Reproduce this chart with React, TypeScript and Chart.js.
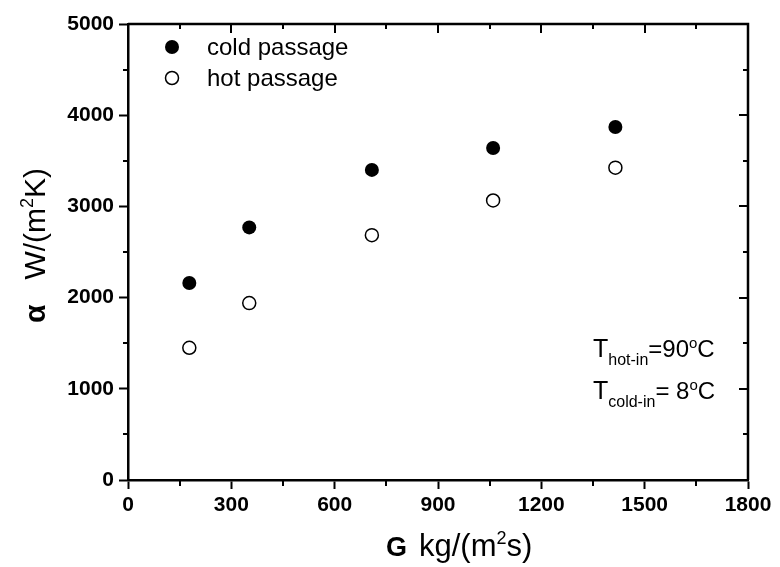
import React, { useEffect, useRef } from "react";
import { Chart, registerables } from "chart.js";

Chart.register(...registerables);

const xValues = [178, 352, 708, 1060, 1415];
const coldValues = [2160, 2770, 3400, 3640, 3870];
const hotValues = [1450, 1940, 2685, 3065, 3425];
const seriesLabels = ["cold passage", "hot passage"];
const xRange = [0, 1800];
const yRange = [0, 5000];
const xMajorStep = 300;
const yMajorStep = 1000;

const FF = '"Liberation Sans", Arial, sans-serif';

type Seg = { t: string; size: number; bold?: boolean; dy?: number; dx?: number };

function drawSegs(ctx: CanvasRenderingContext2D, segs: Seg[], x: number, y: number) {
  let cx = x;
  for (const s of segs) {
    ctx.font = `${s.bold ? "bold " : ""}${s.size}px ${FF}`;
    cx += s.dx || 0;
    ctx.fillText(s.t, cx, y + (s.dy || 0));
    cx += ctx.measureText(s.t).width;
  }
}

const decor = {
  id: "decor",
  afterDraw(chart: any) {
    const { ctx, chartArea } = chart;
    const { left, right, top, bottom } = chartArea;
    const xs = chart.scales.x;
    const ys = chart.scales.y;
    ctx.save();
    ctx.strokeStyle = "#000";
    ctx.fillStyle = "#000";
    ctx.lineWidth = 2.5;
    ctx.beginPath();
    ctx.moveTo(left, top);
    ctx.lineTo(right, top);
    ctx.lineTo(right, bottom);
    ctx.stroke();
    ctx.lineWidth = 2;
    ctx.beginPath();
    for (let v = xRange[0]; v <= xRange[1]; v += xMajorStep / 2) {
      const px = Math.round(xs.getPixelForValue(v));
      const major = v % xMajorStep === 0;
      ctx.moveTo(px, top);
      ctx.lineTo(px, top + (major ? 9 : 5));
      if (!major) {
        ctx.moveTo(px, bottom);
        ctx.lineTo(px, bottom + 6);
      }
    }
    for (let v = yRange[0]; v <= yRange[1]; v += yMajorStep / 2) {
      const py = Math.round(ys.getPixelForValue(v));
      const major = v % yMajorStep === 0;
      ctx.moveTo(right, py);
      ctx.lineTo(right - (major ? 9 : 5), py);
      if (!major) {
        ctx.moveTo(left, py);
        ctx.lineTo(left - 5, py);
      }
    }
    ctx.stroke();

    // legend
    const ds = chart.data.datasets;
    ds.forEach((d: any, i: number) => {
      const cy = 47 + i * 31;
      ctx.beginPath();
      ctx.arc(172, cy, i === 0 ? 7 : 6.5, 0, Math.PI * 2);
      ctx.fillStyle = d.backgroundColor;
      ctx.fill();
      if (i === 1) {
        ctx.lineWidth = 1.5;
        ctx.stroke();
      }
      ctx.fillStyle = "#000";
      ctx.font = `24px ${FF}`;
      ctx.textBaseline = "alphabetic";
      ctx.textAlign = "left";
      ctx.fillText(d.label, 207, 55 + i * 31);
    });

    // annotation
    ctx.fillStyle = "#000";
    drawSegs(ctx, [
      { t: "T", size: 25 },
      { t: "hot-in", size: 16, dy: 8 },
      { t: "=90", size: 24 },
      { t: "o", size: 15, dy: -9 },
      { t: "C", size: 24 },
    ], 593, 357);
    drawSegs(ctx, [
      { t: "T", size: 25 },
      { t: "cold-in", size: 16, dy: 8 },
      { t: "= 8", size: 24 },
      { t: "o", size: 15, dy: -9 },
      { t: "C", size: 24 },
    ], 593, 399);

    // x title
    drawSegs(ctx, [
      { t: "G", size: 27, bold: true },
      { t: "kg/(m", size: 31, dx: 12 },
      { t: "2", size: 18, dy: -12 },
      { t: "s)", size: 31 },
    ], 386, 556);

    // y title
    ctx.save();
    ctx.translate(45, 323);
    ctx.rotate(-Math.PI / 2);
    drawSegs(ctx, [
      { t: "α", size: 30, bold: true },
      { t: "   W/(m", size: 30 },
      { t: "2", size: 18, dy: -12 },
      { t: "K)", size: 30 },
    ], 0, 0);
    ctx.restore();
    ctx.restore();
  },
};

export default function App() {
  const ref = useRef<HTMLCanvasElement | null>(null);
  useEffect(() => {
    if (!ref.current) return;
    const tickFont = { family: FF, size: 21, weight: "bold" as const };
    const plain = (v: any) => String(v);
    const chart = new Chart(ref.current, {
      type: "scatter",
      data: {
        datasets: [
          {
            label: seriesLabels[0],
            data: xValues.map((x, i) => ({ x, y: coldValues[i] })),
            backgroundColor: "#000",
            borderColor: "#000",
            pointRadius: 7,
            pointHoverRadius: 7,
            borderWidth: 0,
          },
          {
            label: seriesLabels[1],
            data: xValues.map((x, i) => ({ x, y: hotValues[i] })),
            backgroundColor: "#fff",
            borderColor: "#000",
            pointRadius: 6.5,
            pointHoverRadius: 6.5,
            borderWidth: 1.5,
          },
        ],
      },
      options: {
        responsive: false,
        animation: false,
        devicePixelRatio: 1,
        layout: { padding: { left: 0, top: 24, right: 32, bottom: 0 } },
        plugins: { legend: { display: false }, tooltip: { enabled: false } },
        scales: {
          x: {
            type: "linear",
            min: xRange[0],
            max: xRange[1],
            afterFit: (s: any) => { s.height = 87; },
            ticks: { stepSize: xMajorStep, color: "#000", font: tickFont, padding: 4, maxRotation: 0, callback: plain },
            grid: { drawOnChartArea: false, drawTicks: true, tickLength: 9, tickWidth: 2, tickColor: "#000", color: "#000" },
            border: { display: true, color: "#000", width: 2.5 },
          },
          y: {
            type: "linear",
            min: yRange[0],
            max: yRange[1],
            afterFit: (s: any) => { s.width = 128; },
            ticks: { stepSize: yMajorStep, color: "#000", font: tickFont, padding: 5, callback: plain },
            grid: { drawOnChartArea: false, drawTicks: true, tickLength: 9, tickWidth: 2, tickColor: "#000", color: "#000" },
            border: { display: true, color: "#000", width: 2.5 },
          },
        },
      },
      plugins: [decor],
    });
    return () => chart.destroy();
  }, []);
  return (
    <div style={{ position: "absolute", left: 0, top: 0, width: 780, height: 567, background: "#fff" }}>
      <canvas ref={ref} width={780} height={567} />
    </div>
  );
}
